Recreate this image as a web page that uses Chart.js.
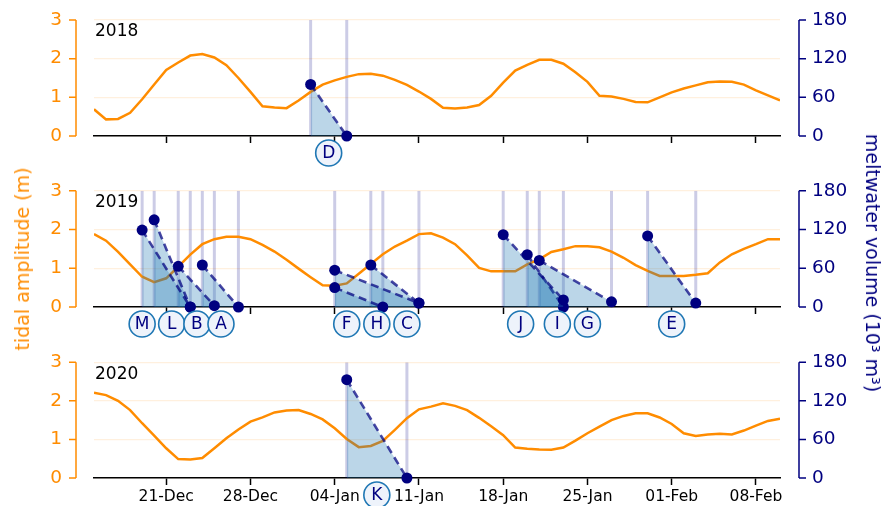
<!DOCTYPE html>
<html>
<head>
<meta charset="utf-8">
<script src="https://cdn.jsdelivr.net/npm/chart.js@4.4.0/dist/chart.umd.min.js"></script>
<style>
  body { margin: 0; background: #fff; }
  #wrap { position: relative; width: 882px; height: 506px; overflow: hidden; font-family: "DejaVu Sans", sans-serif; }
  #wrap canvas { position: absolute; left: 0; }
  .axlab { position: absolute; white-space: nowrap; font-size: 19px; }
</style>
</head>
<body>
<div id="wrap">
  <canvas id="c2018" width="882" height="170" style="top:0px"></canvas>
  <canvas id="c2019" width="882" height="170" style="top:170px"></canvas>
  <canvas id="c2020" width="882" height="166" style="top:340px"></canvas>
  <div class="axlab" style="left:22px; top:259px; color:#ff8c00; transform:translate(-50%,-50%) rotate(-90deg);">tidal amplitude (m)</div>
  <div class="axlab" style="left:873px; top:263px; color:#000080; transform:translate(-50%,-50%) rotate(90deg);">meltwater volume (10³ m³)</div>
</div>
<script>
// === x axis: days since 15-Dec ===
const tickDays = [6, 13, 20, 27, 34, 41, 48, 55];
const tickLabels = ['21-Dec', '28-Dec', '04-Jan', '11-Jan', '18-Jan', '25-Jan', '01-Feb', '08-Feb'];

// tidal amplitude (m), one value per day from 15-Dec
const tide2018 = [0.69, 0.43, 0.44, 0.60, 0.95, 1.33, 1.71, 1.90, 2.08, 2.12, 2.03, 1.83, 1.50, 1.14, 0.77,
  0.74, 0.72, 0.92, 1.14, 1.33, 1.44, 1.53, 1.60, 1.61, 1.56, 1.45, 1.32, 1.15, 0.96, 0.73, 0.71, 0.74,
  0.80, 1.04, 1.38, 1.69, 1.84, 1.97, 1.97, 1.87, 1.65, 1.40, 1.04, 1.02, 0.96, 0.88, 0.87, 1.00, 1.13,
  1.23, 1.31, 1.39, 1.41, 1.40, 1.33, 1.18, 1.05, 0.92];
const tide2019 = [1.88, 1.71, 1.42, 1.10, 0.78, 0.64, 0.74, 1.04, 1.35, 1.62, 1.75, 1.81, 1.81, 1.75, 1.60,
  1.43, 1.22, 0.99, 0.77, 0.56, 0.55, 0.61, 0.86, 1.11, 1.36, 1.56, 1.71, 1.88, 1.90, 1.79, 1.62, 1.33,
  1.01, 0.92, 0.92, 0.92, 1.10, 1.23, 1.42, 1.49, 1.57, 1.57, 1.54, 1.43, 1.27, 1.08, 0.93, 0.80, 0.80,
  0.80, 0.83, 0.87, 1.15, 1.36, 1.50, 1.62, 1.75, 1.75];
const tide2020 = [2.21, 2.15, 2.00, 1.76, 1.42, 1.10, 0.77, 0.49, 0.48, 0.52, 0.77, 1.03, 1.26, 1.46, 1.57,
  1.70, 1.75, 1.76, 1.66, 1.52, 1.29, 1.01, 0.80, 0.83, 0.96, 1.25, 1.55, 1.78, 1.85, 1.94, 1.87, 1.76,
  1.56, 1.34, 1.11, 0.79, 0.76, 0.74, 0.73, 0.79, 0.97, 1.16, 1.33, 1.50, 1.61, 1.68, 1.68, 1.57, 1.40,
  1.16, 1.09, 1.13, 1.15, 1.13, 1.23, 1.36, 1.48, 1.54];

// drainage events: meltwater volume (10^3 m3) at start and end day
const names2018 = ['D'];
const start2018 = [18];
const end2018 = [21];
const vStart2018 = [80];
const vEnd2018 = [0];
const labelAt2018 = [19.5];

const names2019 = ['M', 'L', 'B', 'A', 'F', 'H', 'C', 'J', 'I', 'G', 'E'];
const start2019 = [4, 5, 7, 9, 20, 20, 23, 34, 36, 37, 46];
const end2019 = [8, 8, 10, 12, 24, 27, 27, 39, 39, 43, 50];
const vStart2019 = [119, 135, 63, 65, 30, 57, 65, 112, 81, 72, 110];
const vEnd2019 = [0, 0, 2, 0, 0, 6, 6, 11, 0, 8, 6];
const labelAt2019 = [4.0, 6.45, 8.55, 10.55, 21.0, 23.5, 26.0, 35.45, 38.5, 41.0, 48.0];

const names2020 = ['K'];
const start2020 = [21];
const end2020 = [26];
const vStart2020 = [153];
const vEnd2020 = [0];
const labelAt2020 = [23.5];

const ORANGE = '#ff8c00';
const NAVY = '#000080';

Chart.defaults.font.family = "'DejaVu Sans', sans-serif";

// spines offset from the plot, year tag and circled event letters
const decor = {
    id: 'decor',
    afterDraw(chart, args, opts) {
        const { ctx, chartArea: a, scales } = chart;
        const yL = scales.yL, yR = scales.yR, x = scales.x;
        ctx.save();
        ctx.lineWidth = 1.5;

        // left spine
        const lx = a.left - 18;
        ctx.strokeStyle = ORANGE;
        ctx.beginPath();
        ctx.moveTo(lx, yL.getPixelForValue(3));
        ctx.lineTo(lx, yL.getPixelForValue(0));
        [0, 1, 2, 3].forEach(v => {
            const py = yL.getPixelForValue(v);
            ctx.moveTo(lx - 7, py);
            ctx.lineTo(lx, py);
        });
        ctx.stroke();

        // right spine
        const rx = a.right + 19;
        ctx.strokeStyle = NAVY;
        ctx.beginPath();
        ctx.moveTo(rx, yR.getPixelForValue(180));
        ctx.lineTo(rx, yR.getPixelForValue(0));
        [0, 60, 120, 180].forEach(v => {
            const py = yR.getPixelForValue(v);
            ctx.moveTo(rx, py);
            ctx.lineTo(rx + 7, py);
        });
        ctx.stroke();

        // year
        ctx.fillStyle = '#000';
        ctx.font = "17px 'DejaVu Sans', sans-serif";
        ctx.textAlign = 'left';
        ctx.textBaseline = 'middle';
        ctx.fillText(opts.year, a.left + 1, a.top + 12);

        // event letters
        ctx.font = "17px 'DejaVu Sans', sans-serif";
        ctx.textAlign = 'center';
        opts.names.forEach((n, i) => {
            const cx = x.getPixelForValue(opts.labelAt[i]);
            const cy = a.bottom + 17;
            ctx.beginPath();
            ctx.arc(cx, cy, 13, 0, Math.PI * 2);
            ctx.fillStyle = '#eef3fb';
            ctx.fill();
            ctx.strokeStyle = '#1f77b4';
            ctx.lineWidth = 1.6;
            ctx.stroke();
            ctx.fillStyle = NAVY;
            ctx.fillText(n, cx, cy + 1);
        });
        ctx.restore();
    }
};

function makePanel(id, year, tide, names, starts, ends, vStarts, vEnds, labelAt, padTop, xHeight, showLabels) {
    const datasets = [];

    // lavender markers at every start and end day
    const days = [...new Set(starts.concat(ends))];
    days.forEach(d => {
        datasets.push({
            data: [{ x: d, y: 0 }, { x: d, y: 3 }],
            yAxisID: 'yL',
            borderColor: 'rgba(0,0,128,0.2)',
            borderWidth: 3,
            pointRadius: 0,
            order: 2
        });
    });

    datasets.push({
        data: tide.map((v, i) => ({ x: i, y: v })),
        yAxisID: 'yL',
        borderColor: ORANGE,
        borderWidth: 2.5,
        pointRadius: 0,
        order: 1
    });

    names.forEach((n, i) => {
        datasets.push({
            data: [{ x: starts[i], y: vStarts[i] }, { x: ends[i], y: vEnds[i] }],
            yAxisID: 'yR',
            borderColor: 'rgba(0,0,128,0.72)',
            borderWidth: 2.6,
            borderDash: [8, 5],
            fill: 'origin',
            backgroundColor: 'rgba(31,119,180,0.3)',
            pointRadius: 5.5,
            pointBackgroundColor: NAVY,
            pointBorderWidth: 0,
            clip: false,
            order: 0
        });
    });

    return new Chart(document.getElementById(id), {
        type: 'line',
        data: { datasets },
        plugins: [decor],
        options: {
            responsive: false,
            animation: false,
            layout: { padding: { top: padTop, left: 0, right: 0, bottom: 0 } },
            plugins: {
                legend: { display: false },
                tooltip: { enabled: false },
                decor: { year, names, labelAt }
            },
            scales: {
                x: {
                    type: 'linear',
                    min: 0,
                    max: 57,
                    afterBuildTicks: s => { s.ticks = tickDays.map(v => ({ value: v })); },
                    afterFit: s => { s.height = xHeight; },
                    ticks: {
                        display: showLabels,
                        autoSkip: false,
                        maxRotation: 0,
                        color: '#000',
                        font: { size: 15.5 },
                        padding: 3,
                        callback: v => tickLabels[tickDays.indexOf(v)]
                    },
                    grid: { drawOnChartArea: false, drawTicks: true, tickLength: 7, tickColor: '#000', tickWidth: 1.5 },
                    border: { display: true, color: '#000', width: 1.5 }
                },
                yL: {
                    position: 'left',
                    min: 0,
                    max: 3,
                    afterFit: s => { s.width = 94; },
                    ticks: { stepSize: 1, color: ORANGE, font: { size: 18.5 }, padding: 7 },
                    grid: { color: 'rgba(255,140,0,0.13)', lineWidth: 1.2, tickLength: 25, tickColor: 'rgba(0,0,0,0)' },
                    border: { display: false }
                },
                yR: {
                    position: 'right',
                    min: 0,
                    max: 180,
                    afterFit: s => { s.width = 102; },
                    ticks: { stepSize: 60, color: NAVY, font: { size: 18.5 }, padding: 7 },
                    grid: { drawOnChartArea: false, tickLength: 25, tickColor: 'rgba(0,0,0,0)' },
                    border: { display: false }
                }
            }
        }
    });
}

makePanel('c2018', '2018', tide2018, names2018, start2018, end2018, vStart2018, vEnd2018, labelAt2018, 20, 34, false);
makePanel('c2019', '2019', tide2019, names2019, start2019, end2019, vStart2019, vEnd2019, labelAt2019, 20.7, 33, false);
makePanel('c2020', '2020', tide2020, names2020, start2020, end2020, vStart2020, vEnd2020, labelAt2020, 22.3, 28, true);
</script>
</body>
</html>
